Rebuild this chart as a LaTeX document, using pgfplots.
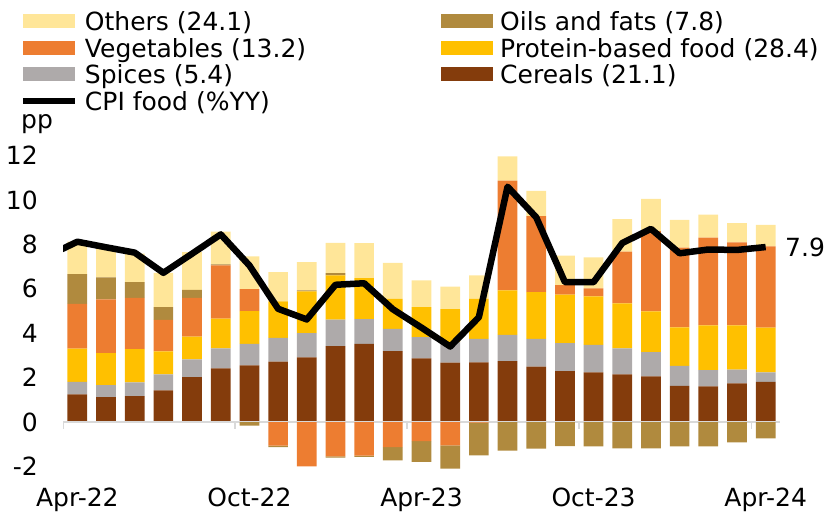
\documentclass[border=0pt]{standalone}
\usepackage{pgfplots}
\pgfplotsset{compat=1.18}
\usepackage{pgfplotstable}
\usepackage{fontspec}
\setmainfont{DejaVu Sans}
\definecolor{cerC}{HTML}{843C0C}
\definecolor{spiC}{HTML}{AEAAAA}
\definecolor{proC}{HTML}{FFC000}
\definecolor{vegC}{HTML}{ED7D31}
\definecolor{oilC}{HTML}{B08A3E}
\definecolor{othC}{HTML}{FFE699}
\definecolor{zeroC}{HTML}{D9D9D9}
\newcommand{\chartfont}{\fontsize{25}{30}\selectfont}

\pgfplotstableread{
x cer spi pro veg oil oth
0 1.25 0.56 1.49 2.02 1.34 1.46
1 1.12 0.54 1.44 2.42 1.00 1.28
2 1.16 0.62 1.50 2.31 0.71 1.28
3 1.43 0.71 1.04 1.42 0.57 1.55
4 2.02 0.80 1.03 1.74 0.36 1.70
5 2.42 0.90 1.34 2.40 0.04 1.48
6 2.55 0.97 1.47 1.00 0 1.47
7 2.72 1.07 1.64 0 0 1.32
8 2.91 1.09 1.88 0 0.05 1.27
9 3.42 1.19 1.99 0 0.11 1.36
10 3.52 1.11 1.85 0 0 1.58
11 3.19 1.01 1.35 0 0 1.62
12 2.87 0.95 1.35 0 0 1.21
13 2.67 0.93 1.48 0 0 1.02
14 2.69 1.06 1.80 0 0 1.05
15 2.74 1.19 2.00 4.94 0 1.09
16 2.49 1.26 2.10 3.42 0 1.14
17 2.29 1.26 2.19 0.42 0 1.33
18 2.24 1.23 2.19 0.36 0 1.40
19 2.15 1.17 2.02 2.34 0 1.46
20 2.06 1.09 1.83 3.62 0 1.45
21 1.63 0.90 1.73 3.60 0 1.24
22 1.61 0.73 2.01 3.95 0 1.04
23 1.74 0.62 1.99 3.74 0 0.87
24 1.81 0.42 2.02 3.66 0 0.97
}\postab

\pgfplotstableread{
x veg oil
0 0 0
1 0 0
2 0 0
3 0 0
4 0 0
5 0 0
6 0 -0.16
7 -1.06 -0.07
8 -2.00 0
9 -1.55 -0.05
10 -1.52 -0.05
11 -1.13 -0.60
12 -0.86 -0.94
13 -1.05 -1.05
14 -0.03 -1.47
15 0 -1.29
16 0 -1.20
17 0 -1.09
18 0 -1.10
19 0 -1.19
20 0 -1.19
21 0 -1.10
22 0 -1.10
23 0 -0.92
24 0 -0.74
}\negtab

\pgfplotstableread{
x cpi
-1 7.50
0 8.12
1 7.87
2 7.63
3 6.72
4 7.58
5 8.45
6 7.05
7 5.10
8 4.62
9 6.18
10 6.25
11 5.08
12 4.25
13 3.40
14 4.72
15 10.60
16 9.22
17 6.30
18 6.30
19 8.06
20 8.70
21 7.60
22 7.77
23 7.75
24 7.88
}\cpitab

\pgfplotsset{
  barleg/.style={legend image code/.code={\fill[##1] (0pt,-7pt) rectangle (52pt,7pt);}},
  lineleg/.style={legend image code/.code={\draw[##1] (0pt,0pt) -- (52pt,0pt);}},
  base/.style={at={(63pt,34.5pt)}, anchor=south west, scale only axis,
    width=717pt, height=333pt, xmin=-0.5, xmax=24.5, ymin=-2.5, ymax=12.5},
}

\begin{document}
\begin{tikzpicture}
\path[use as bounding box] (0pt,0pt) rectangle (825pt,512pt);

\begin{axis}[base, ybar stacked, bar width=19.7pt,
  axis lines*=left, axis line style={draw=none}, major tick length=0pt,
  xtick={0,6,12,18,24}, xticklabels={Apr-22,Oct-22,Apr-23,Oct-23,Apr-24},
  ytick={-2,0,2,4,6,8,10,12},
  tick label style={font=\chartfont, inner sep=0pt},
  yticklabel style={anchor=east, xshift=-25pt},
  xticklabel style={anchor=north, yshift=-10.5pt},
  /pgf/number format/assume math mode=true,
  legend columns=2, legend cell align=left,
  legend style={draw=none, fill=none, at={(axis description cs:-0.06,1.406)},
    anchor=north west, inner sep=0pt, outer sep=0pt, font=\chartfont, row sep=3.3pt,
    nodes={inner sep=0pt, text height=21pt, text depth=2.4pt},
    /tikz/every odd column/.append style={column sep=7pt},
    /tikz/every even column/.append style={column sep=135pt}},
]
\addplot[fill=cerC, draw=none, forget plot] table[x=x,y=cer]{\postab};
\addplot[fill=spiC, draw=none, forget plot] table[x=x,y=spi]{\postab};
\addplot[fill=proC, draw=none, forget plot] table[x=x,y=pro]{\postab};
\addplot[fill=vegC, draw=none, forget plot] table[x=x,y=veg]{\postab};
\addplot[fill=oilC, draw=none, forget plot] table[x=x,y=oil]{\postab};
\addplot[fill=othC, draw=none, forget plot] table[x=x,y=oth]{\postab};
\addlegendimage{barleg, fill=othC, draw=none}
\addlegendentry{Others (24.1)}
\addlegendimage{barleg, fill=oilC, draw=none}
\addlegendentry{Oils and fats (7.8)}
\addlegendimage{barleg, fill=vegC, draw=none}
\addlegendentry{Vegetables (13.2)}
\addlegendimage{barleg, fill=proC, draw=none}
\addlegendentry{Protein-based food (28.4)}
\addlegendimage{barleg, fill=spiC, draw=none}
\addlegendentry{Spices (5.4)}
\addlegendimage{barleg, fill=cerC, draw=none}
\addlegendentry{Cereals (21.1)}
\addlegendimage{lineleg, draw=black, line width=6pt}
\addlegendentry{CPI food (\%YY)}
\end{axis}

\begin{axis}[base, hide axis, ybar stacked, bar width=19.7pt]
\addplot[fill=vegC, draw=none] table[x=x,y=veg]{\negtab};
\addplot[fill=oilC, draw=none] table[x=x,y=oil]{\negtab};
\draw[zeroC, line width=1.6pt] (axis cs:-0.5,0) -- (axis cs:24.5,0);
\draw[zeroC, line width=1.6pt] (axis cs:-0.5,0) -- ++(0pt,-7pt);
\draw[zeroC, line width=1.6pt] (axis cs:5.5,0) -- ++(0pt,-7pt);
\draw[zeroC, line width=1.6pt] (axis cs:11.5,0) -- ++(0pt,-7pt);
\draw[zeroC, line width=1.6pt] (axis cs:17.5,0) -- ++(0pt,-7pt);
\draw[zeroC, line width=1.6pt] (axis cs:23.5,0) -- ++(0pt,-7pt);
\end{axis}

\begin{axis}[base, hide axis]
\addplot[black, line width=6.5pt, line join=round] table[x=x,y=cpi]{\cpitab};
\end{axis}

\node[anchor=base west, inner sep=0pt, font=\chartfont] at (21pt,383pt) {pp};
\node[anchor=base west, inner sep=0pt, font=\chartfont] at (785pt,255pt) {7.9};
\end{tikzpicture}
\end{document}
